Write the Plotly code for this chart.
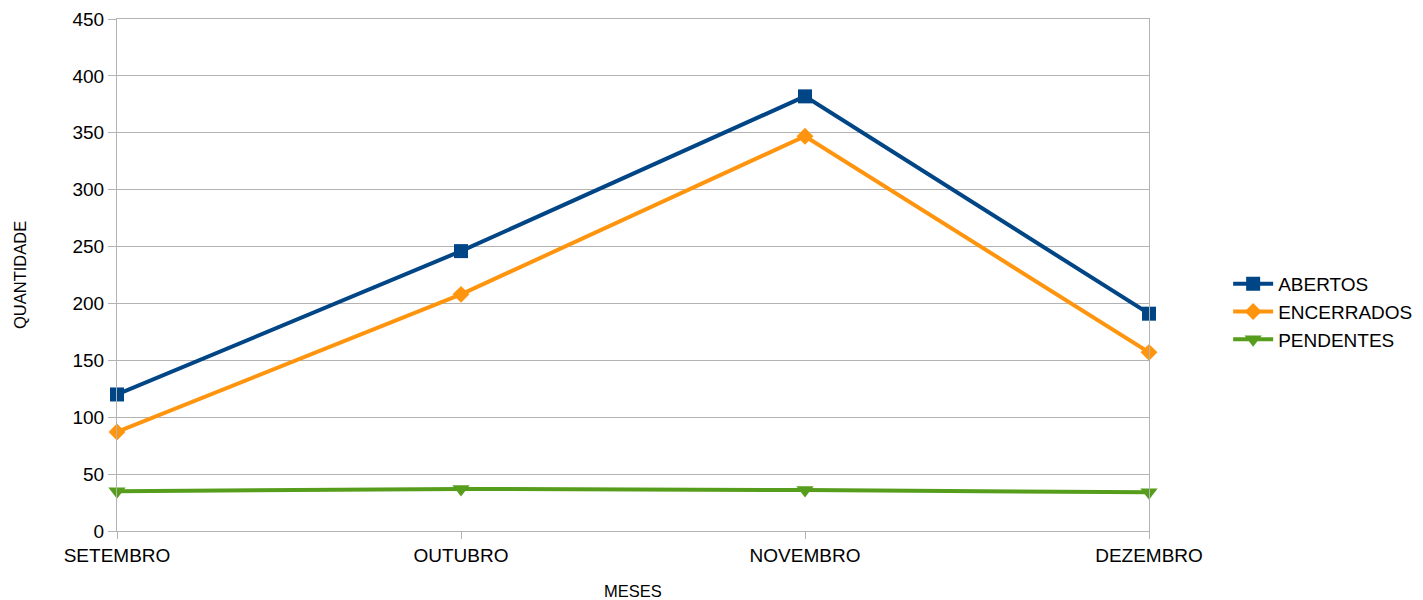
import plotly.graph_objects as go

meses = ["SETEMBRO", "OUTUBRO", "NOVEMBRO", "DEZEMBRO"]
abertos = [120, 246, 382, 191]
encerrados = [87, 208, 347, 157]
pendentes = [35, 37, 36, 34]

series = [
    ("ABERTOS", abertos, "#004586", "square", 14),
    ("ENCERRADOS", encerrados, "#ff950e", "diamond", 13),
    ("PENDENTES", pendentes, "#579d1c", "triangle-down", 15),
]

fig = go.Figure()
for name, values, color, symbol, size in series:
    fig.add_trace(go.Scatter(
        x=meses, y=values, name=name, mode="lines+markers",
        line=dict(color=color, width=4),
        marker=dict(symbol=symbol, size=size, color=color),
        cliponaxis=False,
    ))

grid = "#b3b3b3"
# page body has an 8px margin, so the figure is a bit smaller than the window
fig.update_layout(
    width=1415, height=592,
    margin=dict(l=109, r=274, t=11, b=69, autoexpand=False),
    plot_bgcolor="white", paper_bgcolor="white",
    font=dict(family="Liberation Sans, Arial, sans-serif", size=19, color="#000000"),
    showlegend=True,
    legend=dict(xref="container", yref="container", x=0.8623, y=0.4865,
                xanchor="left", yanchor="middle",
                font=dict(size=19), tracegroupgap=0, itemwidth=40),
    xaxis=dict(
        type="category", range=[0, 3], automargin=False,
        showgrid=False, showline=True, linecolor=grid, linewidth=1,
        mirror=True, ticks="outside", ticklen=7, tickcolor=grid,
    ),
    yaxis=dict(
        range=[0, 450], dtick=50, automargin=False,
        showgrid=True, gridcolor=grid, gridwidth=1,
        showline=True, linecolor=grid, linewidth=1, mirror=True,
        ticks="outside", ticklen=8, tickcolor=grid,
        zeroline=False,
    ),
    annotations=[
        dict(text="MESES", xref="paper", yref="paper", x=0.5, y=(531 - 591) / 512,
             xanchor="center", yanchor="middle", showarrow=False, font=dict(size=16.5)),
        dict(text="QUANTIDADE", xref="paper", yref="paper", x=(20 - 117) / 1032, y=0.5,
             xanchor="center", yanchor="middle", showarrow=False, textangle=-90,
             font=dict(size=16.5)),
    ],
)

fig.write_html("out.html")
